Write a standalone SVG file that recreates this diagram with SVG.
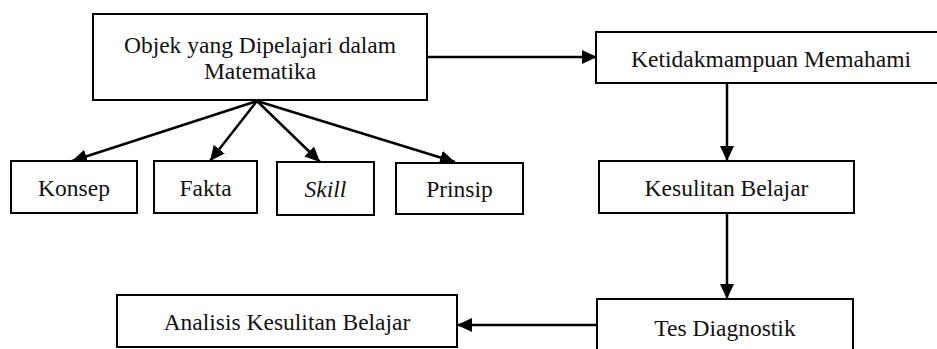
<svg xmlns="http://www.w3.org/2000/svg" width="937" height="349" viewBox="0 0 937 349">
<style>
.box{fill:#fff;stroke:#000;stroke-width:2}
.t{font-family:'Liberation Serif',serif;font-size:23.5px;fill:#111;text-anchor:middle}
.c{stroke:#000;stroke-width:2.5;fill:none;marker-end:url(#ah)}
</style>
<defs>
<marker id="ah" markerUnits="userSpaceOnUse" markerWidth="16" markerHeight="14" refX="15" refY="7" orient="auto" viewBox="0 0 16 14">
<path d="M0,0 L15,7 L0,14 Z" fill="#000"/>
</marker>
</defs>
<g id="connectors">
<line class="c" x1="427" y1="57" x2="597" y2="57"/>
<line class="c" x1="257" y1="101" x2="72" y2="161"/>
<line class="c" x1="257" y1="101" x2="210" y2="161"/>
<line class="c" x1="257" y1="101" x2="320" y2="162"/>
<line class="c" x1="257" y1="101" x2="455" y2="162"/>
<line class="c" x1="727" y1="83" x2="727" y2="161"/>
<line class="c" x1="727" y1="213" x2="727" y2="299"/>
<line class="c" x1="597" y1="325" x2="457" y2="325"/>
</g>
<g id="objek">
<rect class="box" x="93" y="14" width="334" height="86"/>
<text class="t" x="260" y="53">Objek yang Dipelajari dalam</text>
<text class="t" x="260" y="79">Matematika</text>
</g>
<g id="konsep">
<rect class="box" x="11" y="161" width="126" height="52"/>
<text class="t" x="74" y="196">Konsep</text>
</g>
<g id="fakta">
<rect class="box" x="154" y="161" width="103" height="52"/>
<text class="t" x="205.5" y="196">Fakta</text>
</g>
<g id="skill">
<rect class="box" x="277" y="162" width="97" height="53"/>
<text class="t" x="325.5" y="197" font-style="italic">Skill</text>
</g>
<g id="prinsip">
<rect class="box" x="396" y="163" width="127" height="51"/>
<text class="t" x="459.5" y="197">Prinsip</text>
</g>
<g id="ketidakmampuan">
<rect class="box" x="596" y="32" width="346" height="51"/>
<text class="t" x="771" y="67">Ketidakmampuan Memahami</text>
</g>
<g id="kesulitan">
<rect class="box" x="599" y="161" width="255" height="52"/>
<text class="t" x="726.5" y="196">Kesulitan Belajar</text>
</g>
<g id="tes">
<rect class="box" x="597" y="299" width="256" height="60"/>
<text class="t" x="725" y="336">Tes Diagnostik</text>
</g>
<g id="analisis">
<rect class="box" x="117" y="295" width="340" height="52"/>
<text class="t" x="287" y="330">Analisis Kesulitan Belajar</text>
</g>
</svg>
